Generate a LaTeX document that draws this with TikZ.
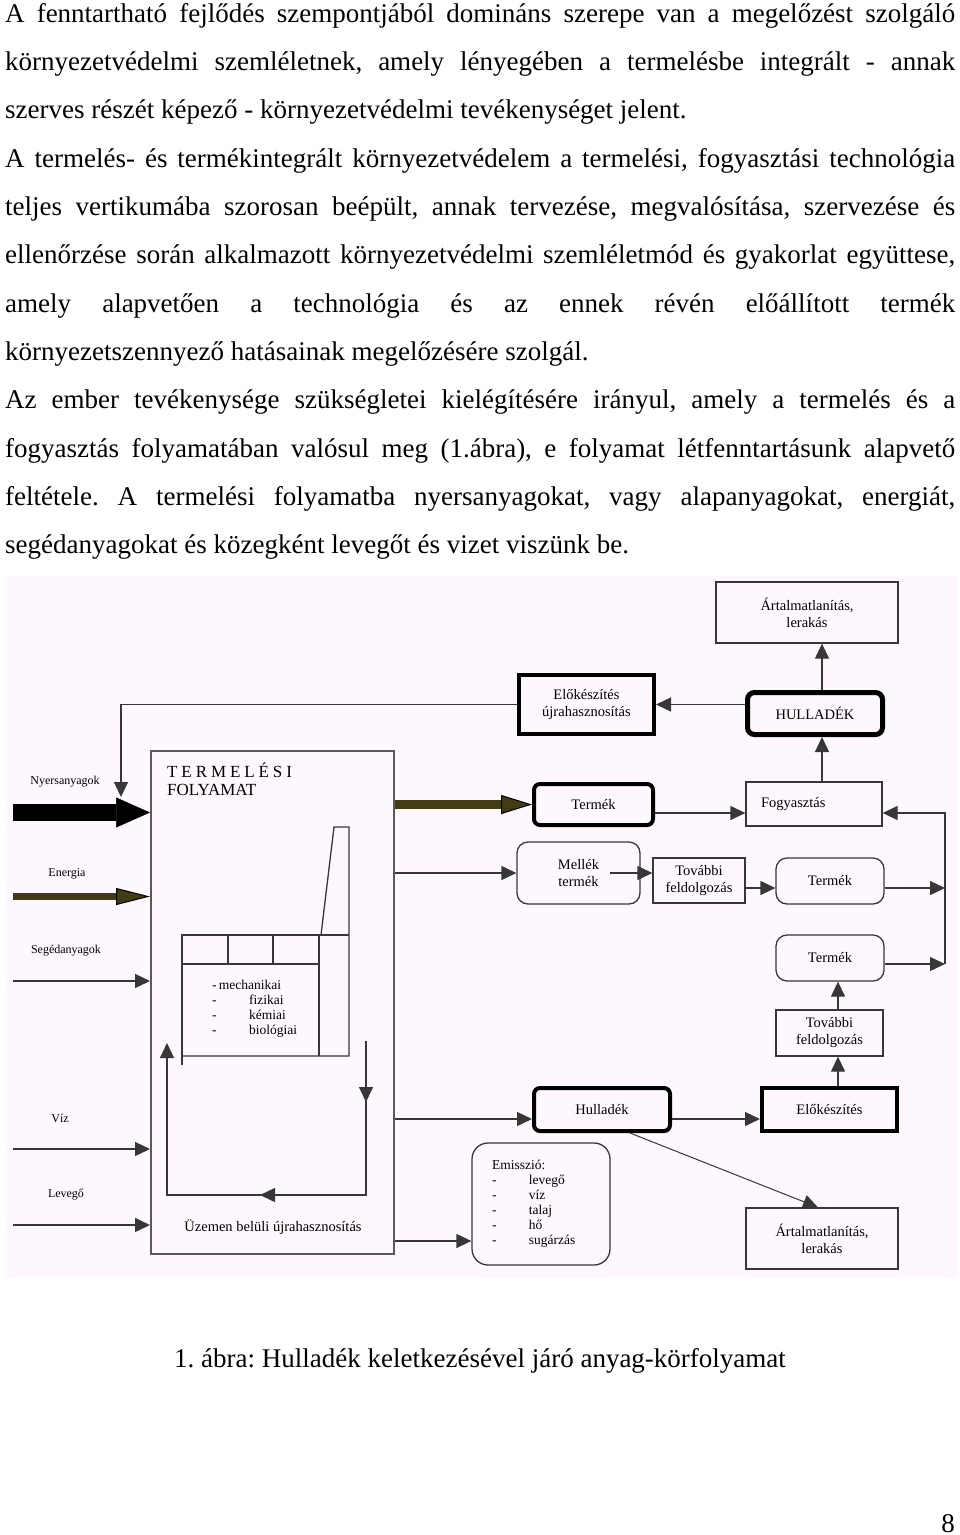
\documentclass[tikz,border=0pt]{standalone}
\usepackage{fontspec}
\setmainfont{Liberation Serif}
\newfontfamily\spacedfont[LetterSpace=23]{Liberation Serif}
\usetikzlibrary{arrows.meta, positioning, calc}
\frenchspacing

\definecolor{diagbg}{RGB}{254,248,254}
\definecolor{olivebrown}{RGB}{66,60,20}
\definecolor{linegray}{RGB}{55,55,55}

\newcommand{\bodyfont}{\fontsize{27}{48.36}\selectfont}
\newcommand{\boxfont}{\fontsize{14.5}{17}\selectfont}
\newcommand{\smallfont}{\fontsize{12}{14}\selectfont}
\newcommand{\listfont}{\fontsize{13.5}{15}\selectfont}
\newcommand{\jline}[1]{\hbox to 950pt{#1}}
\newcommand{\eline}[1]{\hbox to 950pt{#1\hfil}}

\begin{document}
\begin{tikzpicture}[x=1pt, y=-1pt, >={Triangle[length=15pt,width=14pt]}]
\tikzset{
    box/.style={draw=linegray, line width=1.3pt, inner sep=0pt, align=center, font=\boxfont},
    thickbox/.style={box, draw=black, line width=4pt},
    heavybox/.style={box, draw=black, line width=5pt, rounded corners=7pt},
    roundbox/.style={box, rounded corners=11pt},
    thickround/.style={box, draw=black, line width=4pt, rounded corners=6pt},
    procbox/.style={draw=black!65, line width=2pt, inner sep=0pt},
    flow/.style={draw=linegray, line width=1.3pt, ->},
    thinline/.style={draw=linegray, line width=1.3pt},
    rawarrow/.style={draw=black, line width=17pt, -{Triangle[length=34pt,width=30pt,line width=0.5pt]}},
    olivearrow/.style={draw=olivebrown, line width=9pt, -{Triangle[length=31pt,width=19pt,line width=1pt,fill=olivebrown,color=black]}},
    olivesmall/.style={draw=olivebrown, line width=7pt, -{Triangle[length=34pt,width=17pt,line width=1pt,fill=olivebrown,color=black]}},
    inlabel/.style={inner sep=0pt, font=\smallfont},
}
\useasboundingbox (0,0) rectangle (960,1535);
\fill[white] (0,0) rectangle (960,1535);

% text of the page
\node[anchor=base west, inner sep=0pt, font=\bodyfont] (body) at (5,22) {\vtop{%
\jline{A fenntartható fejlődés szempontjából domináns szerepe van a megelőzést szolgáló}
\jline{környezetvédelmi szemléletnek, amely lényegében a termelésbe integrált - annak}
\eline{szerves részét képező - környezetvédelmi tevékenységet jelent.}
\jline{A termelés- és termékintegrált környezetvédelem a termelési, fogyasztási technológia}
\jline{teljes vertikumába szorosan beépült, annak tervezése, megvalósítása, szervezése és}
\jline{ellenőrzése során alkalmazott környezetvédelmi szemléletmód és gyakorlat együttese,}
\jline{amely alapvetően a technológia és az ennek révén előállított termék}
\eline{környezetszennyező hatásainak megelőzésére szolgál.}
\jline{Az ember tevékenysége szükségletei kielégítésére irányul, amely a termelés és a}
\jline{fogyasztás folyamatában valósul meg (1.ábra), e folyamat létfenntartásunk alapvető}
\jline{feltétele. A termelési folyamatba nyersanyagokat, vagy alapanyagokat, energiát,}
\eline{segédanyagokat és közegként levegőt és vizet viszünk be.}}};

% diagram
\fill[diagbg] (5,576) rectangle (957,1278);

\node[procbox, minimum width=243pt, minimum height=503pt] (process) at (272.5,1002.5) {};
\node[anchor=base west, inner sep=0pt, font=\fontsize{17}{19}\spacedfont] (title_top) at (167,777) {TERMELÉSI};
\node[anchor=base west, inner sep=0pt, font=\fontsize{17}{19}\selectfont] (title_bot) at (167,795) {FOLYAMAT};

\node[box, minimum width=182pt, minimum height=61pt] (harm_top) at (807,612.5) {Ártalmatlanítás,\\lerakás};
\node[heavybox, minimum width=135pt, minimum height=42pt] (waste_top) at (815,713.5) {HULLADÉK};
\node[thickbox, minimum width=135pt, minimum height=59pt] (prep_top) at (586.5,704.5) {Előkészítés\\újrahasznosítás};
\node[thickround, minimum width=119pt, minimum height=41pt] (prod_top) at (593.5,804.5) {Termék};
\node[box, minimum width=136pt, minimum height=44pt, text width=106pt, align=left] (consume) at (814,804) {Fogyasztás};
\node[roundbox, minimum width=123pt, minimum height=62pt] (byprod) at (578.5,873) {Mellék\\termék};
\node[box, minimum width=92pt, minimum height=45pt] (further_mid) at (699,880.5) {További\\feldolgozás};
\node[roundbox, minimum width=108pt, minimum height=46pt] (prod_mid) at (830,881) {Termék};
\node[roundbox, minimum width=108pt, minimum height=46pt] (prod_low) at (830,958) {Termék};
\node[box, minimum width=107pt, minimum height=46pt] (further_low) at (829.5,1033) {További\\feldolgozás};
\node[thickbox, minimum width=135pt, minimum height=43pt] (prep_low) at (829.5,1109.5) {Előkészítés};
\node[thickround, minimum width=136pt, minimum height=43pt] (waste_low) at (602,1109.5) {Hulladék};
\node[roundbox, rounded corners=16pt, minimum width=138pt, minimum height=122pt, text width=98pt, align=left, font=\listfont] (emission) at (541,1204)
  {Emisszió:\\\makebox[37pt][l]{-}levegő\\\makebox[37pt][l]{-}víz\\\makebox[37pt][l]{-}talaj\\\makebox[37pt][l]{-}hő\\\makebox[37pt][l]{-}sugárzás};
\node[box, minimum width=152pt, minimum height=61pt] (harm_low) at (822,1238.5) {Ártalmatlanítás,\\lerakás};

% inputs
\node[inlabel] (raw_lbl) at (65,782) {Nyersanyagok};
\node[inlabel] (energy_lbl) at (67,874) {Energia};
\node[inlabel] (aux_lbl) at (66,951) {Segédanyagok};
\node[inlabel] (water_lbl) at (60,1118) {Víz};
\node[inlabel] (air_lbl) at (66,1195) {Levegő};
\coordinate (in_raw) at (13,812.5);
\coordinate (in_energy) at (13,896.5);
\coordinate (in_aux) at (13,981);
\coordinate (in_water) at (13,1149);
\coordinate (in_air) at (13,1225);
\draw[rawarrow] (in_raw) -- (in_raw -| process.west);
\draw[olivesmall] (in_energy) -- (in_energy -| process.west);
\draw[flow] (in_aux) -- (in_aux -| process.west);
\draw[flow] (in_water) -- (in_water -| process.west);
\draw[flow] (in_air) -- (in_air -| process.west);

% inside the process
\draw[thinline] (182,1065) -- (182,935) -- (349,935);
\draw[thinline] (182,964) -- (319,964);
\draw[thinline] (228,935) -- (228,964) (273,935) -- (273,964);
\draw[thinline] (319,935) -- (319,1056);
\draw[thinline] (182,1056) -- (349,1056) -- (349,827) -- (334,827) -- (321,935);
\node[anchor=north west, inner sep=0pt, align=left, font=\listfont] (methods) at (212,980)
  {-\,mechanikai\\\makebox[37pt][l]{-}fizikai\\\makebox[37pt][l]{-}kémiai\\\makebox[37pt][l]{-}biológiai};
\node[inner sep=0pt, font=\boxfont] (reuse_lbl) at (273,1227) {Üzemen belüli újrahasznosítás};
\coordinate (loop_a) at (366,1041);
\coordinate (loop_b) at (366,1195);
\coordinate (loop_c) at (167,1195);
\coordinate (loop_d) at (167,1043);
\draw[flow] (loop_a) -- (loop_b) -- (loop_c) -- (loop_d);
\draw[flow] (loop_a) -- (366,1102);
\draw[flow] (loop_b) -- (260,1195);

% outputs of the process
\coordinate (w_in) at ([yshift=-9.5pt]waste_low.west);
\coordinate (e_in) at ([yshift=-37pt]emission.west);
\draw[olivearrow] (process.east |- prod_top.west) -- (prod_top.west);
\draw[flow] (process.east |- byprod.west) -- (byprod.west);
\draw[flow] (process.east |- w_in) -- (w_in);
\draw[flow] (process.east |- e_in) -- (e_in);

% feedback to the raw materials
\coordinate (fb_end) at (121,797);
\draw[flow] (prep_top.west) -| (fb_end);

% upper chain
\draw[flow] (waste_top.west |- prep_top.east) -- (prep_top.east);
\draw[flow] ([xshift=7pt]waste_top.north) -- ([xshift=15pt]harm_top.south);
\draw[flow] ([xshift=8pt]consume.north) -- ([xshift=7pt]waste_top.south);
\coordinate (c_in) at ([yshift=-8.5pt]prod_top.east);
\draw[flow] (c_in) -- (c_in -| consume.west);
\coordinate (f_in) at ([xshift=-31pt]byprod.east);
\draw[flow] (f_in) -- (f_in -| further_mid.west);
\coordinate (p_in) at ([yshift=-7.5pt]further_mid.east);
\draw[flow] (p_in) -- (p_in -| prod_mid.west);

% back to consumption
\coordinate (loop_top) at (945,813);
\coordinate (loop_mid) at (945,888);
\coordinate (loop_bot) at (945,964);
\draw[flow] ([yshift=-7pt]prod_mid.east) -- (loop_mid);
\draw[flow] ([yshift=-6pt]prod_low.east) -- (loop_bot);
\draw[flow] (loop_bot) -- (loop_top) -- (loop_top -| consume.east);

% lower chain
\draw[flow] ([yshift=-9.5pt]waste_low.east) -- ([yshift=-9.5pt]waste_low.east -| prep_low.west);
\draw[flow] ([xshift=8.5pt]prep_low.north) -- ([xshift=8.5pt]further_low.south);
\draw[flow] ([xshift=8.5pt]further_low.north) -- ([xshift=8pt]prod_low.south);
\draw[flow, line width=1pt] ([xshift=28pt]waste_low.south) -- ([xshift=-4pt]harm_low.north);

% caption and page number
\node[anchor=base, inner sep=0pt, font=\bodyfont] (caption) at (480,1367) {1. ábra: Hulladék keletkezésével járó anyag-körfolyamat};
\node[anchor=base east, inner sep=0pt, font=\bodyfont] (page_no) at (955,1532) {8};
\end{tikzpicture}
\end{document}
